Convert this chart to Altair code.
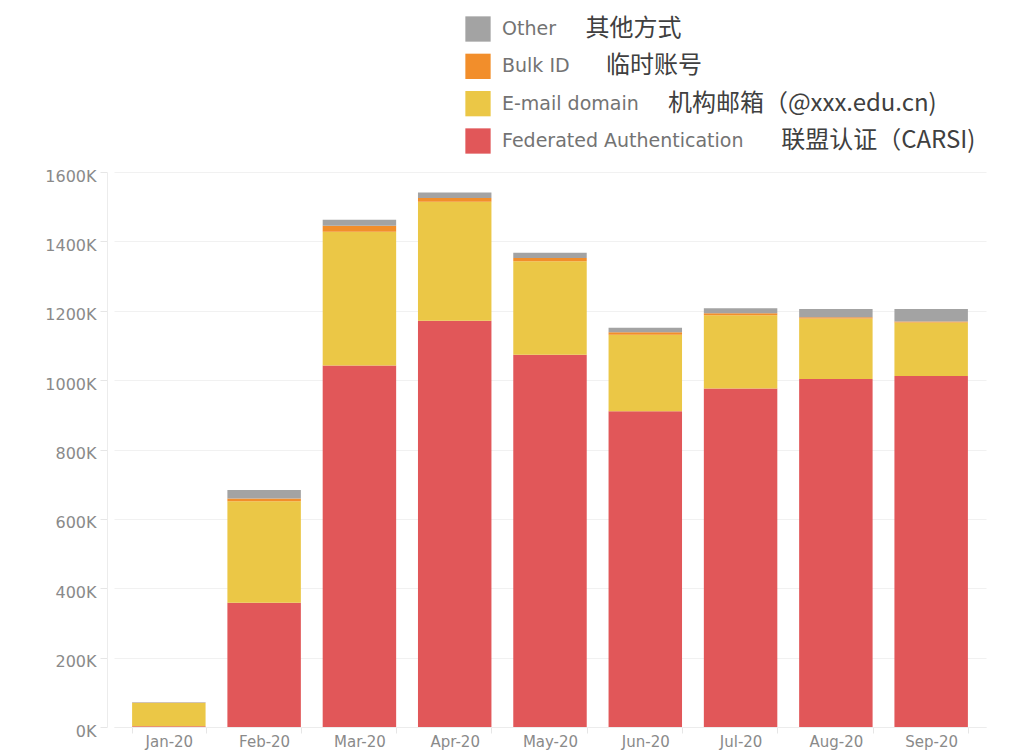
import altair as alt
import pandas as pd

# ---- data (values in thousands) ----
months = ["Jan-20", "Feb-20", "Mar-20", "Apr-20", "May-20", "Jun-20", "Jul-20", "Aug-20", "Sep-20"]
federated = [2, 358, 1042, 1171, 1073, 910, 976, 1003, 1012]
email_domain = [67, 293, 386, 343, 270, 221, 211, 175, 154]
bulk_id = [1, 8, 17, 11, 9, 7, 6, 3, 3]
other = [1, 24, 17, 16, 15, 13, 14, 24, 36]

methods = ["Federated Authentication", "E-mail domain", "Bulk ID", "Other"]
methods_cn = ["联盟认证（CARSI)", "机构邮箱（@xxx.edu.cn)", "临时账号", "其他方式"]
colors = ["#E15759", "#EBC746", "#F28E2B", "#A3A3A3"]
y_ticks = [0, 200, 400, 600, 800, 1000, 1200, 1400, 1600]

series = [federated, email_domain, bulk_id, other]
rows = []
for rank, (name, vals) in enumerate(zip(methods, series)):
    for m, v in zip(months, vals):
        rows.append({"month": m, "method": name, "value": v, "stack_rank": rank})
df = pd.DataFrame(rows)

legend_df = pd.DataFrame({"method": methods, "cn": methods_cn})
legend_order = list(reversed(methods))

color_scale = alt.Scale(domain=methods, range=colors)
label_color = "#8a8a8a"
axis_font = "DejaVu Sans"

bars = alt.Chart(df).mark_bar().encode(
    x=alt.X(
        "month:N", sort=months,
        scale=alt.Scale(paddingInner=0.229, paddingOuter=0.19),
        axis=alt.Axis(title=None, labelAngle=0, tickBand="extent", tickSize=6,
                      tickColor="#e6e6e6", domainColor="#ececec", labelPadding=1,
                      labelFont=axis_font, labelFontSize=15, labelColor=label_color,
                      grid=False),
    ),
    y=alt.Y(
        "value:Q", stack="zero",
        scale=alt.Scale(domain=[0, 1600], nice=False),
        axis=alt.Axis(title=None, values=y_ticks, labelExpr="datum.value + 'K'",
                      offset=7, tickSize=7, tickColor="#e6e6e6", domainColor="#ececec",
                      gridColor="#f1f1f1", labelPadding=4, labelOffset=4,
                      labelFont=axis_font, labelFontSize=16, labelColor=label_color),
    ),
    color=alt.Color("method:N", scale=color_scale, legend=None),
    order=alt.Order("stack_rank:Q", sort="ascending"),
)

legend_y = alt.Y("method:N", sort=legend_order,
                 scale=alt.Scale(type="point", range=[-143, -31], padding=0), axis=None)

legend_squares = alt.Chart(legend_df).mark_square(size=640, opacity=1).encode(
    x=alt.value(364),
    y=legend_y,
    color=alt.Color("method:N", scale=color_scale, legend=None),
)

legend_en = alt.Chart(legend_df).mark_text(
    align="left", baseline="middle", font="DejaVu Sans", fontSize=19, color="#737373"
).encode(
    x=alt.value(388),
    y=legend_y,
    text="method:N",
)

legend_cn = alt.Chart(legend_df).transform_calculate(
    cx="420 + 10.3 * length(datum.method)"
).mark_text(
    align="left", baseline="middle", font="Noto Sans CJK SC", fontSize=24, color="#404040"
).encode(
    x=alt.X("cx:Q", scale=None, axis=None),
    y=legend_y,
    text="cn:N",
)

chart = alt.layer(bars, legend_squares, legend_en, legend_cn).resolve_scale(
    x="independent", y="independent"
).properties(
    width=872, height=555,
    autosize=alt.AutoSizeParams(type="none"),
    padding={"left": 106, "top": 164, "right": 16, "bottom": 24},
    background="white",
).configure_view(stroke=None)

chart.save("out.html", embed_options={"renderer": "svg", "actions": False})
